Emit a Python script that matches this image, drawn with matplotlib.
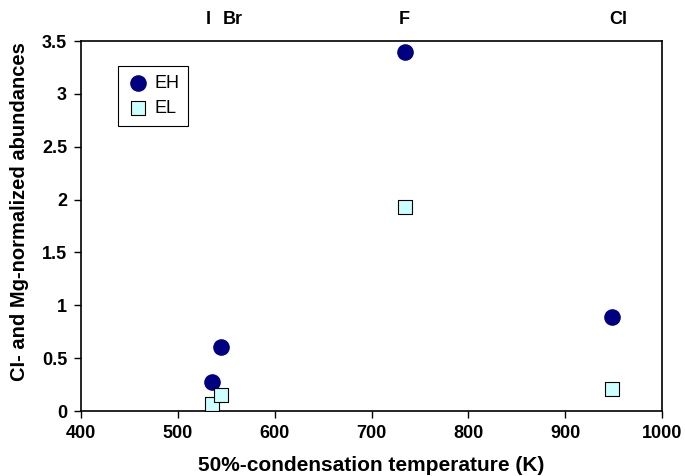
import matplotlib
matplotlib.use("Agg")
import matplotlib.pyplot as plt
from matplotlib.transforms import blended_transform_factory

plt.rcParams['font.family'] = ['Liberation Sans', 'DejaVu Sans']

temps = [535, 545, 735, 948]
eh = [0.27, 0.61, 3.40, 0.89]
el = [0.07, 0.15, 1.93, 0.21]
elements = ["I", "Br", "F", "Cl"]
element_x = [531, 557, 734, 955]

fig = plt.figure(figsize=(6.85, 4.76), dpi=100)
ax = fig.add_axes([81/685, 1-411/476, (662-81)/685, (411-41)/476])

ax.scatter(temps, eh, s=120, marker='o', color='#000080', edgecolors='#000080', label='EH', zorder=3)
ax.scatter(temps, el, s=110, marker='s', facecolor='#CCFFFF', edgecolors='black', linewidths=0.8, label='EL', zorder=3)

ax.set_xlim(400, 1000)
ax.set_ylim(0, 3.5)
ax.set_xticks([400, 500, 600, 700, 800, 900, 1000])
ax.set_yticks([0, 0.5, 1, 1.5, 2, 2.5, 3, 3.5])
ax.set_yticklabels(['0', '0.5', '1', '1.5', '2', '2.5', '3', '3.5'])
ax.tick_params(direction='out', length=5, width=1, labelsize=13, pad=5)
for lab in ax.get_xticklabels() + ax.get_yticklabels():
    lab.set_fontweight('bold')
for sp in ax.spines.values():
    sp.set_linewidth(1.2)

ax.set_xlabel('50%-condensation temperature (K)', fontsize=15, fontweight='bold', labelpad=10)
ax.set_ylabel('CI- and Mg-normalized abundances', fontsize=14.5, fontweight='bold')
ax.yaxis.set_label_coords(-0.09, 0.54)

tr = blended_transform_factory(ax.transData, ax.transAxes)
for name, xv in zip(elements, element_x):
    ax.text(xv, 1.057, name, transform=tr, ha='center', va='center', fontsize=13, fontweight='bold')

leg = ax.legend(loc='upper left', bbox_to_anchor=(37/581, 1-25/370), fontsize=13, frameon=True,
                fancybox=False, edgecolor='black', framealpha=1, handletextpad=0.3,
                borderpad=0.5, labelspacing=0.45, handlelength=1.2, borderaxespad=0,
                scatterpoints=1)
leg.get_frame().set_linewidth(0.8)

fig.savefig('out.png', dpi=100)
